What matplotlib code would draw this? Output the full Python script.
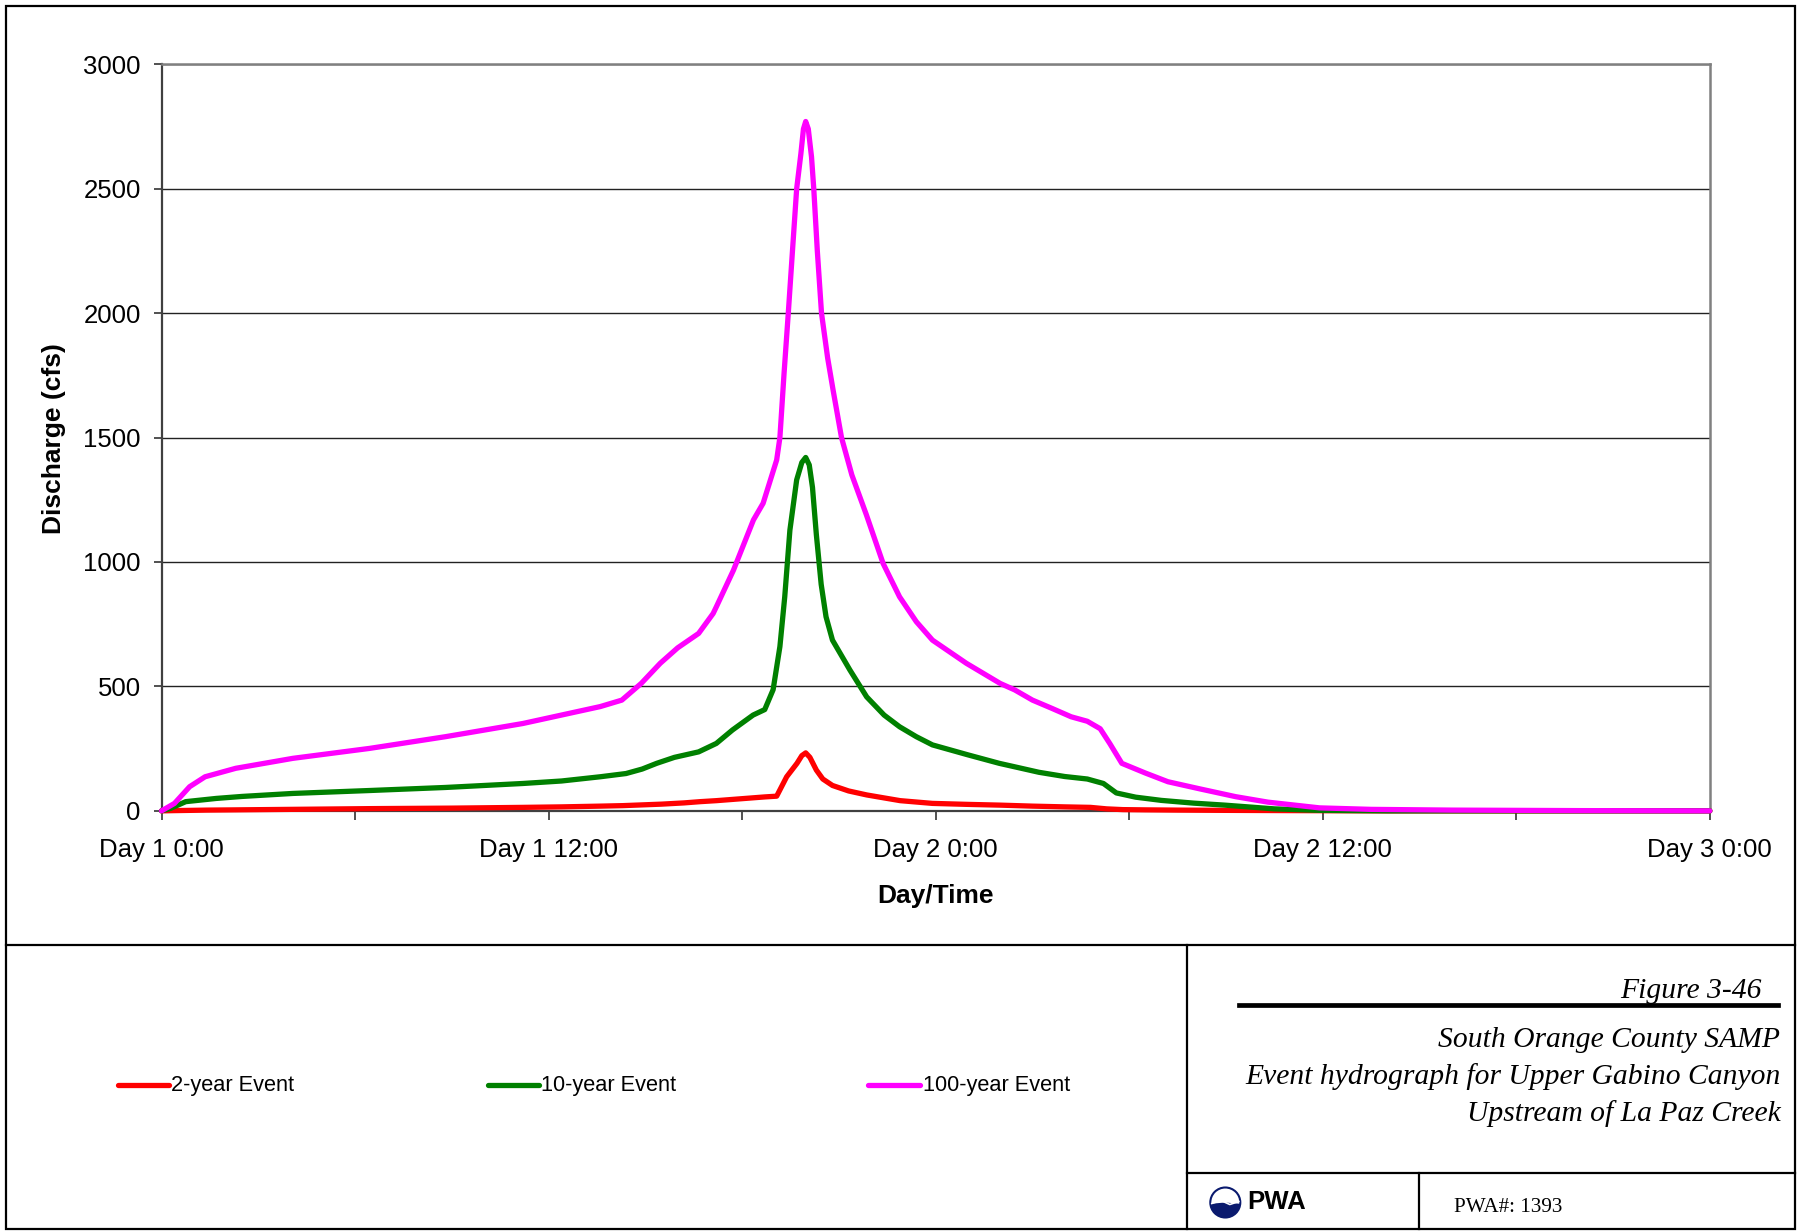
import matplotlib
matplotlib.use("Agg")
import matplotlib.pyplot as plt
from matplotlib.lines import Line2D
from matplotlib.patches import Rectangle, Circle, Wedge

# hours from Day 1 0:00, discharge in cfs
hours_2yr = [0, 0.4, 0.9, 1.4, 2.3, 4, 6.5, 9, 11.2, 12.4, 13.6, 14.3, 14.9, 15.5,
             16.2, 16.7, 17.2, 17.7, 18.3, 18.7, 19.07, 19.38, 19.7, 19.85, 19.97,
             20.1, 20.3, 20.5, 20.8, 21.3, 21.86, 22.4, 22.9, 23.9, 25.0, 26.0, 27.0,
             28.0, 28.8, 29.3, 29.8, 30.5, 31.5, 33.0, 35.0, 38.0, 48]
flow_2yr = [0, 1, 2, 3, 4, 6, 9, 11, 14, 16, 19, 21, 24, 27,
            32, 37, 41, 46, 52, 56, 59, 137, 191, 222, 233,
            215, 164, 128, 102, 80, 64, 52, 41, 30, 26, 23, 19,
            16, 14, 8, 5, 4, 3, 2, 1, 0, 0]

hours_10yr = [0, 0.28, 0.75, 1.7, 2.5, 4.07, 6.5, 8.8, 11.2, 12.4, 13.6, 14.4, 14.9,
              15.35, 15.9, 16.65, 17.2, 17.7, 18.34, 18.7, 18.96, 19.17, 19.32,
              19.48, 19.69, 19.85, 19.97, 20.08, 20.18, 20.3, 20.45, 20.6, 20.8,
              21.34, 21.86, 22.4, 22.88, 23.4, 23.9, 25.0, 25.97, 26.45, 27.2, 28.0,
              28.7, 29.2, 29.6, 30.2, 31.0, 32.0, 32.96, 34.5, 35.9, 38.0, 48]
flow_10yr = [0, 10, 37, 50, 58, 70, 82, 94, 110, 120, 137, 150, 168,
             191, 215, 237, 271, 325, 385, 407, 487, 660, 860,
             1128, 1330, 1400, 1420, 1390, 1300, 1110, 910, 780, 686,
             566, 458, 385, 338, 298, 265, 225, 191, 177, 155, 138,
             128, 110, 72, 55, 42, 31, 23, 8, 2, 0, 0]

hours_100yr = [0, 0.4, 0.87, 1.35, 2.3, 4.07, 6.45, 8.8, 11.2, 12.4, 13.6, 14.27,
               14.87, 15.46, 16.0, 16.65, 17.1, 17.2, 17.73, 18.35, 18.65, 19.07,
               19.17, 19.3, 19.43, 19.57, 19.69, 19.82, 19.9, 19.97, 20.05, 20.15,
               20.22, 20.33, 20.46, 20.65, 20.82, 21.08, 21.4, 21.85, 22.37, 22.88,
               23.4, 23.9, 24.95, 26.0, 26.45, 27.0, 27.6, 28.2, 28.7, 29.1, 29.4,
               29.77, 30.5, 31.2, 32.2, 33.3, 34.3, 35.9, 37.5, 40, 44, 48]
flow_100yr = [0, 30, 97, 137, 171, 211, 251, 298, 351, 385, 419, 445,
              512, 593, 655, 713, 793, 820, 967, 1169, 1236, 1410,
              1500, 1760, 2000, 2270, 2500, 2640, 2740, 2770, 2740, 2628,
              2500, 2250, 2000, 1820, 1690, 1500, 1350, 1190, 994, 860,
              760, 686, 593, 512, 486, 445, 412, 378, 360, 330, 270,
              191, 152, 117, 88, 57, 35, 12, 6, 3, 1, 0]

series_names = ["2-year Event", "10-year Event", "100-year Event"]
series_colors = ["#ff0000", "#008000", "#ff00ff"]

x_major = [0, 12, 24, 36, 48]
x_minor = [6, 18, 30, 42]
x_labels = ["Day 1 0:00", "Day 1 12:00", "Day 2 0:00", "Day 2 12:00", "Day 3 0:00"]
y_ticks = [0, 500, 1000, 1500, 2000, 2500, 3000]

fig_title = "Figure 3-46"
title_lines = ["South Orange County SAMP",
               "Event hydrograph for Upper Gabino Canyon",
               "Upstream of La Paz Creek"]
project_no = "PWA#: 1393"

plt.rcParams["font.family"] = ["Liberation Sans", "DejaVu Sans"]

fig = plt.figure(figsize=(17.97, 12.31), dpi=100)
ax = fig.add_axes([0.0899, 0.3413, 0.8616, 0.6065])

all_hours = [hours_2yr, hours_10yr, hours_100yr]
all_flows = [flow_2yr, flow_10yr, flow_100yr]
for h, q, c in zip(all_hours, all_flows, series_colors):
    ax.plot(h, q, color=c, lw=3.8, solid_joinstyle="round",
            solid_capstyle="round", clip_on=False, zorder=3)

ax.set_xlim(0, 48)
ax.set_ylim(0, 3000)
ax.set_xticks(x_major)
ax.set_xticklabels(x_labels)
ax.set_xticks(x_minor, minor=True)
ax.set_yticks(y_ticks)
ax.tick_params(axis="x", which="both", direction="out", length=6.5, width=1.2,
               color="#333333", labelsize=18.5, pad=13)
ax.tick_params(axis="y", direction="out", length=6, width=1.2,
               color="#333333", labelsize=18.5, pad=9)
ax.grid(axis="y", color="#222222", lw=1.0)
ax.set_axisbelow(True)

for side in ["top", "right"]:
    ax.spines[side].set_color("#808080")
    ax.spines[side].set_linewidth(1.8)
for side in ["left", "bottom"]:
    ax.spines[side].set_color("#404040")
    ax.spines[side].set_linewidth(1.6)

fig.text(0.5207, 0.272, "Day/Time", ha="center", va="center",
         fontsize=19, fontweight="bold")
fig.text(0.030, 0.644, "Discharge (cfs)", ha="center", va="center",
         rotation=90, fontsize=19, fontweight="bold")

# page frame and title block
fig.add_artist(Rectangle((0.0032, 0.0019), 0.9955, 0.9935, transform=fig.transFigure,
                         fill=False, lw=1.6, edgecolor="black"))
frame_lines = [
    ([0.0032, 0.9987], [0.232, 0.232]),
    ([0.6605, 0.6605], [0.0019, 0.232]),
    ([0.6605, 0.9987], [0.0468, 0.0468]),
    ([0.7899, 0.7899], [0.0019, 0.0468]),
]
for xs, ys in frame_lines:
    fig.add_artist(Line2D(xs, ys, transform=fig.transFigure, color="black", lw=1.6))
fig.add_artist(Line2D([0.6894, 0.9892], [0.1835, 0.1835], transform=fig.transFigure,
                      color="black", lw=3.4))

serif_it = dict(family=["Liberation Serif", "DejaVu Serif"], style="italic", fontsize=21.3)
fig.text(0.9805, 0.1889, fig_title, ha="right", va="baseline", **serif_it)
for line, yb in zip(title_lines, [0.1495, 0.1196, 0.0897]):
    fig.text(0.9908, yb, line, ha="right", va="baseline", **serif_it)

fig.text(0.8089, 0.0158, project_no, ha="left", va="baseline",
         family=["Liberation Serif", "DejaVu Serif"], fontsize=15.2)
fig.text(0.6939, 0.0177, "PWA", ha="left", va="baseline",
         fontsize=18.5, fontweight="bold")

# small PWA logo
cx, cy, r = 12.253, 0.285, 0.15
tr = fig.dpi_scale_trans
fig.add_artist(Wedge((cx, cy), r, 185, 355, transform=tr, color="#0a1a6e", lw=0))
fig.add_artist(Circle((cx, cy), r, transform=tr, fill=False, edgecolor="#0a1a6e", lw=1.5))
fig.add_artist(Line2D([cx - r * 0.9, cx - r * 0.3, cx + r * 0.3, cx + r * 0.9],
                      [cy - 0.01, cy + 0.02, cy - 0.02, cy + 0.01],
                      transform=tr, color="white", lw=1.2))

# legend row
legend_x = [(0.0656, 0.0940, 0.0954), (0.2714, 0.2998, 0.3012), (0.4833, 0.5117, 0.5135)]
for (x0, x1, xt), name, c in zip(legend_x, series_names, series_colors):
    fig.add_artist(Line2D([x0, x1], [0.1184, 0.1184], transform=fig.transFigure,
                          color=c, lw=3.8, solid_capstyle="round"))
    fig.text(xt, 0.1184, name, ha="left", va="center", fontsize=15.7)

fig.savefig("out.png", dpi=100)
